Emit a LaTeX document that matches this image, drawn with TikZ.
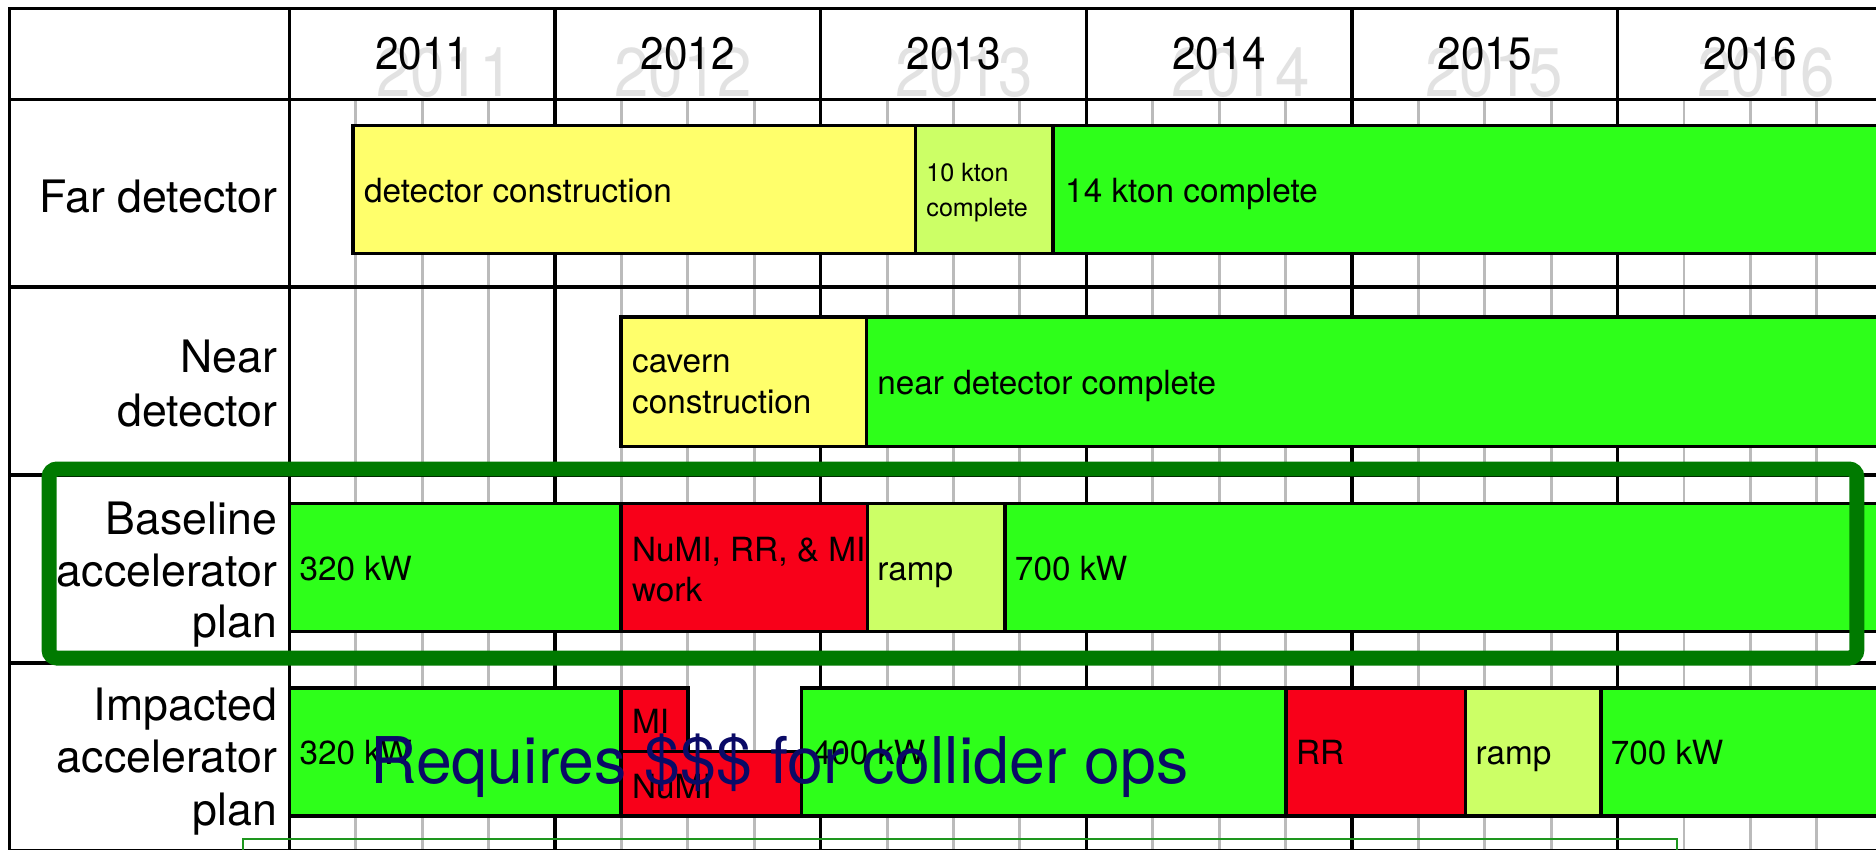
\documentclass[tikz,border=0pt]{standalone}
\usepackage{fontspec}
\setmainfont{TeX Gyre Heros}
\definecolor{cyel}{HTML}{FFFF6B}
\definecolor{clgr}{HTML}{CCFF66}
\definecolor{cgrn}{HTML}{2EFF1A}
\definecolor{cred}{HTML}{F80019}
\definecolor{cdgr}{HTML}{007A00}
\definecolor{cthin}{HTML}{1E961E}
\definecolor{cblue}{HTML}{0A0A66}
\definecolor{cgridg}{HTML}{BBBBBB}
\definecolor{cyrg}{HTML}{E2E2E2}
\begin{document}
\begin{tikzpicture}[x=0.6pt,y=-0.6pt,
 tline/.style={line width=1.7pt,black,line cap=rect},
 qline/.style={line width=1.5pt,cgridg},
 bar/.style={draw=black,line width=1.7pt},
 bartxt/.style={anchor=base west,inner sep=0pt,font=\fontsize{16.7}{19}\selectfont},
 smalltxt/.style={anchor=base west,inner sep=0pt,font=\fontsize{12.6}{15}\selectfont},
 lbl/.style={anchor=base east,inner sep=0pt,font=\fontsize{22.4}{26}\selectfont},
 yr/.style={anchor=base,inner sep=0pt,font=\fontsize{22.8}{26}\selectfont},
 yrg/.style={anchor=base,inner sep=0pt,text=cyrg,font=\fontsize{34.5}{40}\selectfont},
]
\useasboundingbox (0,0) rectangle (1568,710);
\fill[white] (0,0) rectangle (1568,710);
% quarter grid lines
\foreach \c in {242,464,686,908,1130,1352,1574}{
  \foreach \q in {1,2,3}{
    \draw[qline] ({\c+55.5*\q},83) -- ({\c+55.5*\q},712);
  }}
% table lines
\foreach \x in {8,242,464,686,908,1130,1352,1574} \draw[tline] (\x,7) -- (\x,712);
\foreach \y in {7,83,240,397,554,711} \draw[tline] (8,\y) -- (1580,\y);
% header
\node[yrg] (g2011) at (372,81) {\scalebox{0.9}[1]{2011}};
\node[yrg] (g2012) at (571,81) {\scalebox{0.9}[1]{2012}};
\node[yrg] (g2013) at (806,81) {\scalebox{0.9}[1]{2013}};
\node[yrg] (g2014) at (1037,81) {\scalebox{0.9}[1]{2014}};
\node[yrg] (g2015) at (1249,81) {\scalebox{0.9}[1]{2015}};
\node[yrg] (g2016) at (1476,81) {\scalebox{0.9}[1]{2016}};
\node[yr] (y2011) at (353,58) {\scalebox{0.93}[1]{2011}};
\node[yr] (y2012) at (575,58) {\scalebox{0.93}[1]{2012}};
\node[yr] (y2013) at (797,58) {\scalebox{0.93}[1]{2013}};
\node[yr] (y2014) at (1019,58) {\scalebox{0.93}[1]{2014}};
\node[yr] (y2015) at (1241,58) {\scalebox{0.93}[1]{2015}};
\node[yr] (y2016) at (1463,58) {\scalebox{0.93}[1]{2016}};
% row 1
\draw[bar,fill=cyel] (295,105) rectangle (765,212);
\draw[bar,fill=clgr] (765,105) rectangle (880,212);
\draw[bar,fill=cgrn] (880,105) rectangle (1600,212);
\node[bartxt] (t1a) at (304,169) {detector construction};
\node[smalltxt] (t1b) at (774,152) {10 kton};
\node[smalltxt] (t1c) at (774,181) {complete};
\node[bartxt] (t1d) at (890,169) {14 kton complete};
% row 2
\draw[bar,fill=cyel] (519,265) rectangle (724,373);
\draw[bar,fill=cgrn] (724,265) rectangle (1600,373);
\node[bartxt] (t2a) at (528,311) {cavern};
\node[bartxt] (t2b) at (528,346) {construction};
\node[bartxt] (t2c) at (733,330) {near detector complete};
% row 3
\draw[bar,fill=cgrn] (242,421) rectangle (519,528);
\draw[bar,fill=cred] (519,421) rectangle (725,528);
\draw[bar,fill=clgr] (725,421) rectangle (840,528);
\draw[bar,fill=cgrn] (840,421) rectangle (1600,528);
\node[bartxt] (t3a) at (250,485) {320 kW};
\node[bartxt] (t3b) at (528,469) {NuMI, RR, \& MI};
\node[bartxt] (t3c) at (528,503) {work};
\node[bartxt] (t3d) at (733,485) {ramp};
\node[bartxt] (t3e) at (848,485) {700 kW};
% row 4
\draw[bar,fill=cgrn] (242,575) rectangle (519,682);
\draw[bar,fill=cred] (519,575) rectangle (575,628);
\draw[bar,fill=cred] (519,628) rectangle (670,682);
\draw[bar,fill=cgrn] (670,575) rectangle (1075,682);
\draw[bar,fill=cred] (1075,575) rectangle (1225,682);
\draw[bar,fill=clgr] (1225,575) rectangle (1338,682);
\draw[bar,fill=cgrn] (1338,575) rectangle (1600,682);
\node[bartxt] (t4a) at (250,639) {320 kW};
\node[bartxt] (t4b) at (528,613) {MI};
\node[bartxt] (t4c) at (528,667) {NuMI};
\node[bartxt] (t4d) at (679,639) {400 kW};
\node[bartxt] (t4e) at (1083,639) {RR};
\node[bartxt] (t4f) at (1233,639) {ramp};
\node[bartxt] (t4g) at (1346,639) {700 kW};
% row labels
\node[lbl] (l1) at (232,177.5) {Far detector};
\node[lbl] (l2a) at (232,311.5) {Near};
\node[lbl] (l2b) at (232,356.5) {detector};
\node[lbl] (l3a) at (232,447) {Baseline};
\node[lbl] (l3b) at (232,490) {accelerator};
\node[lbl] (l3c) at (232,533) {plan};
\node[lbl] (l4a) at (232,602) {Impacted};
\node[lbl] (l4b) at (232,646) {accelerator};
\node[lbl] (l4c) at (232,690) {plan};
% highlight boxes
\draw[cdgr,line width=7.5pt,rounded corners=4pt] (41,392) rectangle (1552,550);
\draw[cthin,line width=1pt] (203,730) -- (203,701) -- (1402,701) -- (1402,730);
% overlay text
\node[anchor=base west,inner sep=0pt,text=cblue,font=\fontsize{32.3}{38}\selectfont] (req) at (309,655) {Requires \$\$\$ for collider ops};
\end{tikzpicture}
\end{document}
